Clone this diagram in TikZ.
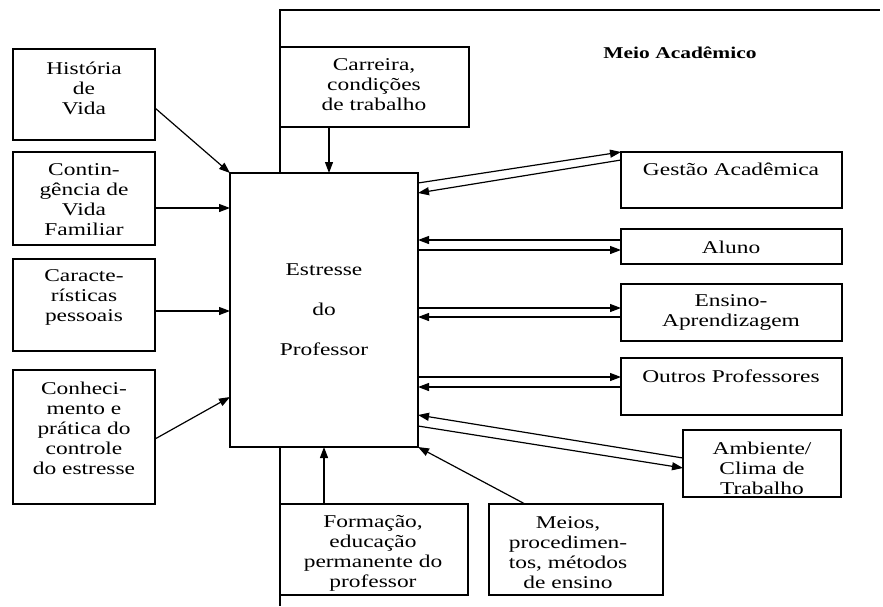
\documentclass[tikz,border=0pt]{standalone}
\usepackage{fontspec}
\setmainfont{Liberation Serif}[FakeStretch=1.3]
\usetikzlibrary{arrows.meta}
\begin{document}
\begin{tikzpicture}[x=1pt,y=-1pt,
  box/.style={draw, line width=1.3pt, inner sep=0pt, outer sep=0pt},
  txt/.style={align=center, font=\fontsize{18}{20}\selectfont, inner sep=0pt},
  arr/.style={line width=1.2pt, -{Triangle[length=11pt,width=8pt]}},
  frame/.style={line width=1.2pt}
]
\useasboundingbox (0,0) rectangle (883,606);
% frame of Meio Academico
\draw[frame] (280,173) -- (280,10) -- (880,10);
\draw[frame] (280,447) -- (280,606);
\node[font=\bfseries\fontsize{16.5}{18}\selectfont, inner sep=0pt] (meio) at (680,53) {Meio Acadêmico};

% central box
\node[box, minimum width=188pt, minimum height=274pt, align=center,
      font=\fontsize{18}{40}\selectfont] (cen) at (324,310) {Estresse\\do\\Professor};

% left boxes
\node[box, minimum width=142pt, minimum height=91pt] (hist) at (84,94.5) {};
\node[txt] (thist) at (84,88) {História\\de\\Vida};
\node[box, minimum width=142pt, minimum height=93pt] (cont) at (84,198.5) {};
\node[txt] (tcont) at (84,200) {Contin-\\gência de\\Vida\\Familiar};
\node[box, minimum width=142pt, minimum height=92pt] (car) at (84,305) {};
\node[txt] (tcar) at (84,297) {Caracte-\\rísticas\\pessoais};
\node[box, minimum width=142pt, minimum height=134pt] (con) at (84,437) {};
\node[txt] (tcon) at (84,428) {Conheci-\\mento e\\prática do\\controle\\do estresse};

% top box
\node[box, minimum width=189pt, minimum height=80pt] (carr) at (374.5,87) {};
\node[txt] (tcarr) at (374,85) {Carreira,\\condições\\de trabalho};

% bottom boxes
\node[box, minimum width=188pt, minimum height=91pt] (form) at (374,549.5) {};
\node[txt] (tform) at (373,553) {Formação,\\educação\\permanente do\\professor};
\node[box, minimum width=174pt, minimum height=91pt] (mei) at (576,549.5) {};
\node[txt] (tmei) at (568,553) {Meios,\\procedimen-\\tos, métodos\\de ensino};

% right boxes
\node[box, minimum width=221pt, minimum height=56pt] (gest) at (731.5,180) {};
\node[txt] (tgest) at (731,169) {Gestão Acadêmica};
\node[box, minimum width=221pt, minimum height=35pt] (alu) at (731.5,246.5) {};
\node[txt] (talu) at (731,247) {Aluno};
\node[box, minimum width=221pt, minimum height=57pt] (ens) at (731.5,312.5) {};
\node[txt] (tens) at (731,312) {Ensino-\\Aprendizagem};
\node[box, minimum width=221pt, minimum height=57pt] (out) at (731.5,386.5) {};
\node[txt] (tout) at (731,376) {Outros Professores};
\node[box, minimum width=158pt, minimum height=67pt] (amb) at (762,463.5) {};
\node[txt] (tamb) at (762,468) {Ambiente/\\Clima de\\Trabalho};

% left arrows
\draw[arr] ([yshift=-13.5pt]hist.east) -- (cen.north west);
\draw[arr] ([yshift=-9.5pt]cont.east) -- ([yshift=-35pt]cen.north west);
\draw[arr] ([yshift=-6pt]car.east) -- ([yshift=-138pt]cen.north west);
\draw[arr] ([yshift=-2pt]con.east) -- ([yshift=-224pt]cen.north west);

% top and bottom arrows
\draw[arr] ([xshift=-45.5pt]carr.south) -- ([xshift=5pt]cen.north);
\draw[arr] ([xshift=-50pt]form.north) -- (cen.south);
\draw[arr] ([xshift=-51pt]mei.north) -- (cen.south east);

% right arrows
\draw[arr] ([yshift=-10pt]cen.north east) -- (gest.north west);
\draw[arr] ([yshift=-8pt]gest.north west) -- ([yshift=-20pt]cen.north east);
\draw[arr] ([yshift=6.5pt]alu.west) -- ([yshift=-67pt]cen.north east);
\draw[arr] ([yshift=-77pt]cen.north east) -- ([yshift=-3.5pt]alu.west);
\draw[arr] ([yshift=-135pt]cen.north east) -- ([yshift=4.5pt]ens.west);
\draw[arr] ([yshift=-4.5pt]ens.west) -- ([yshift=-144pt]cen.north east);
\draw[arr] ([yshift=-204pt]cen.north east) -- ([yshift=9.5pt]out.west);
\draw[arr] ([yshift=-0.5pt]out.west) -- ([yshift=-214pt]cen.north east);
\draw[arr] ([yshift=5.5pt]amb.west) -- ([yshift=-242pt]cen.north east);
\draw[arr] ([yshift=-253pt]cen.north east) -- ([yshift=-4.5pt]amb.west);
\end{tikzpicture}
\end{document}
